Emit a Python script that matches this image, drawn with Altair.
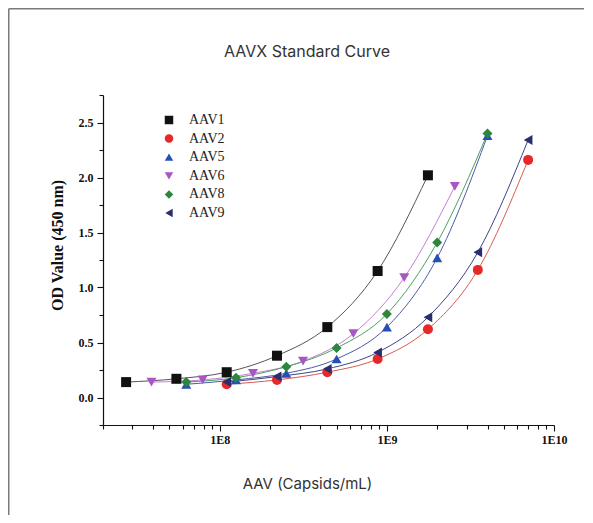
import altair as alt
import pandas as pd

series = ["AAV1", "AAV2", "AAV5", "AAV6", "AAV8", "AAV9"]
shapes = ["square", "circle", "triangle-up", "triangle-down", "diamond", "triangle-left"]
marker_colors = ["#111111", "#e62828", "#2650b4", "#a955c6", "#2e8540", "#2a2d6e"]
line_colors = ["#555555", "#d95a4e", "#4b5ba6", "#c47fd6", "#4f9e63", "#3f4386"]

x_aav1 = [2.75e7, 5.5e7, 1.1e8, 2.2e8, 4.4e8, 8.8e8, 1.76e9]
y_aav1 = [0.14, 0.17, 0.23, 0.38, 0.64, 1.15, 2.02]
x_aav2 = [1.1e8, 2.2e8, 4.4e8, 8.8e8, 1.76e9, 3.5e9, 7.0e9]
y_aav2 = [0.12, 0.16, 0.23, 0.35, 0.62, 1.16, 2.16]
x_aav5 = [6.3e7, 1.25e8, 2.5e8, 5.0e8, 1.0e9, 2.0e9, 4.0e9]
y_aav5 = [0.12, 0.16, 0.22, 0.35, 0.64, 1.27, 2.38]
x_aav6 = [3.9e7, 7.9e7, 1.58e8, 3.15e8, 6.3e8, 1.27e9, 2.55e9]
y_aav6 = [0.14, 0.16, 0.22, 0.33, 0.58, 1.09, 1.92]
x_aav8 = [6.3e7, 1.25e8, 2.5e8, 5.0e8, 1.0e9, 2.0e9, 4.0e9]
y_aav8 = [0.14, 0.18, 0.28, 0.45, 0.76, 1.41, 2.40]
x_aav9 = [1.1e8, 2.2e8, 4.4e8, 8.8e8, 1.76e9, 3.5e9, 7.0e9]
y_aav9 = [0.14, 0.19, 0.26, 0.41, 0.73, 1.32, 2.34]

xs = [x_aav1, x_aav2, x_aav5, x_aav6, x_aav8, x_aav9]
ys = [y_aav1, y_aav2, y_aav5, y_aav6, y_aav8, y_aav9]

x_major = [1e8, 1e9, 1e10]
x_minor = [2e7, 3e7, 4e7, 5e7, 6e7, 7e7, 8e7, 9e7,
           2e8, 3e8, 4e8, 5e8, 6e8, 7e8, 8e8, 9e8,
           2e9, 3e9, 4e9, 5e9, 6e9, 7e9, 8e9, 9e9]
y_major = [0.0, 0.5, 1.0, 1.5, 2.0, 2.5]
y_minor = [-0.25, 0.25, 0.75, 1.25, 1.75, 2.25, 2.75]

rows = []
for s, xv, yv in zip(series, xs, ys):
    for a, b in zip(xv, yv):
        rows.append({"series": s, "conc": a, "od": b})
df = pd.DataFrame(rows)

W, H = 451, 330
PL, PT, PR, PB = 95, 87, 30, 90

x_scale = alt.Scale(type="log", domain=[2e7, 1e10], nice=False)
y_scale = alt.Scale(domain=[-0.25, 2.75], nice=False, zero=False)
common = dict(domainColor="#111111", tickColor="#111111", domainWidth=1.2, tickWidth=1.1, grid=False)

x_enc = alt.X(
    "conc:Q", scale=x_scale,
    axis=alt.Axis(
        orient="bottom", values=x_major,
        labelExpr="'1E' + round(log(datum.value)/LN10)",
        tickSize=6,
        title="AAV (Capsids/mL)",
        titleFont="Inter", titleFontSize=15, titleFontWeight="normal", titleColor="#333333",
        titleX=204, titleY=58, titleBaseline="middle", titleAnchor="middle", titleAlign="center",
        labelFont="Liberation Serif", labelFontSize=12, labelFontWeight="bold", labelColor="#111111",
        labelPadding=3, labelFlush=False, labelOverlap=False, **common,
    ),
)
y_enc = alt.Y(
    "od:Q", scale=y_scale,
    axis=alt.Axis(
        orient="left", values=y_major, format=".1f",
        tickSize=6,
        title="OD Value (450 nm)",
        titleFont="Liberation Serif", titleFontSize=16, titleFontWeight="bold", titleColor="#111111",
        titleX=-46, titleY=150, titleAngle=270, titleBaseline="middle", titleAlign="center",
        labelFont="Liberation Serif", labelFontSize=12, labelFontWeight="bold", labelColor="#111111",
        labelPadding=4, labelFlush=False, labelOverlap=False, **common,
    ),
)

base_axes = alt.Chart(df).mark_point(opacity=0).encode(x=x_enc, y=y_enc)

minor_axes = alt.Chart(df).mark_point(opacity=0).encode(
    x=alt.X("conc:Q", scale=x_scale,
            axis=alt.Axis(orient="bottom", values=x_minor, labels=False, title=None,
                          domain=False, tickSize=4, tickColor="#111111", tickWidth=1.1, grid=False)),
    y=alt.Y("od:Q", scale=y_scale,
            axis=alt.Axis(orient="left", values=y_minor, labels=False, title=None,
                          domain=False, tickSize=4, tickColor="#111111", tickWidth=1.1, grid=False)),
)

line_layers = []
for s, c in zip(series, line_colors):
    line_layers.append(
        alt.Chart(df).transform_filter(alt.datum.series == s)
        .mark_line(strokeWidth=1.0, interpolate="monotone", color=c)
        .encode(x=alt.X("conc:Q", scale=x_scale, axis=None),
                y=alt.Y("od:Q", scale=y_scale, axis=None))
    )

points = alt.Chart(df).mark_point(filled=True, opacity=1, size=100).encode(
    x=alt.X("conc:Q", scale=x_scale, axis=None),
    y=alt.Y("od:Q", scale=y_scale, axis=None),
    color=alt.Color("series:N", scale=alt.Scale(domain=series, range=marker_colors),
                    legend=alt.Legend(title=None, orient="none", legendX=59, legendY=18,
                                      labelFont="Liberation Serif", labelFontSize=14,
                                      labelColor="#222222", symbolSize=72, labelOffset=13,
                                      rowPadding=4.6, padding=0)),
    shape=alt.Shape("series:N", scale=alt.Scale(domain=series, range=shapes)),
)

one = pd.DataFrame({"a": [0]})
title = alt.Chart(one).mark_text(font="Inter", fontSize=16, color="#333333",
                                 align="center", baseline="middle").encode(
    x=alt.value(204), y=alt.value(-43), text=alt.value("AAVX Standard Curve"))

border_left = alt.Chart(one).mark_rule(color="#7a7a7a", strokeWidth=1.5).encode(
    x=alt.value(-PL + 0.75), y=alt.value(-PT + 0.75), y2=alt.value(H + PB))
border_top = alt.Chart(one).mark_rule(color="#7a7a7a", strokeWidth=1.5).encode(
    x=alt.value(-PL + 0.75), x2=alt.value(W + PR), y=alt.value(-PT + 0.75))

chart = alt.layer(base_axes, minor_axes, *line_layers, points, title, border_left, border_top).resolve_axis(
    x="independent", y="independent"
).properties(
    width=W, height=H,
    autosize=alt.AutoSizeParams(type="none"),
    padding={"left": PL, "top": PT, "right": PR, "bottom": PB},
    background="white",
).configure_view(stroke=None)

chart.save("out.html", embed_options={"renderer": "svg", "actions": False})
